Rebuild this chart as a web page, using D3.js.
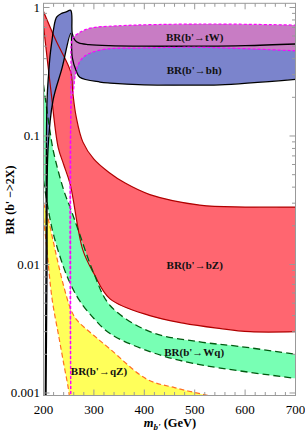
<!DOCTYPE html>
<html><head><meta charset="utf-8">
<script src="https://cdn.jsdelivr.net/npm/d3@7"></script>
<style>body{margin:0;background:#fff}svg{display:block}</style>
</head><body>
<svg id="c" width="305" height="442"></svg>
<script>
// ---- data: [mass (GeV), BR] pairs ----
const xTicks = [200, 300, 400, 500, 600, 700];
const yTicks = [1, 0.1, 0.01, 0.001];
const yTickLabels = ["1", "0.1", "0.01", "0.001"];

const bhUpper = [[203.5,0.0009],[205,0.01],[207,0.19],[210,0.3],[213,0.42],[217,0.56],[220,0.68],[226,0.84],[236,0.9],[245,0.925],[254,0.95],[257,0.63],[262,0.56],[270,0.53],[290,0.515],[330,0.505],[400,0.5],[500,0.5],[600,0.505],[700,0.52]];
const bhLower = [[205,0.0009],[207,0.01],[209,0.08],[219,0.19],[237,0.34],[254,0.63],[257,0.41],[265,0.32],[272,0.287],[312,0.263],[332,0.258],[400,0.25],[508,0.249],[550,0.25],[700,0.276]];

const tWUpper = [[254,0.0009],[254.5,0.3],[256,0.55],[260,0.59],[273,0.645],[292,0.69],[346,0.72],[510,0.744],[700,0.73]];
const tWLower = [[254,0.0009],[256,0.2],[259,0.22],[262,0.28],[267,0.345],[279,0.41],[312,0.466],[411,0.485],[510,0.49],[700,0.46]];

const bZUpper = [[200,0.93],[225,0.55],[254,0.315],[258,0.22],[265,0.14],[278,0.09],[300,0.066],[330,0.052],[362,0.043],[411,0.035],[510,0.029],[600,0.028],[700,0.028]];
const bZLower = [[200,0.72],[215,0.22],[229,0.082],[240,0.06],[253,0.042],[278,0.013],[300,0.0085],[332,0.0054],[411,0.004],[477,0.0035],[544,0.0032],[610,0.003],[700,0.003]];

const WqUpper = [[200,0.25],[210,0.13],[220,0.075],[240,0.038],[254,0.027],[270,0.018],[300,0.0085],[332,0.0048],[411,0.003],[510,0.0025],[590,0.0023],[700,0.002]];
const WqLower = [[200,0.045],[210,0.026],[220,0.017],[240,0.0095],[254,0.007],[272,0.0052],[300,0.0038],[332,0.0029],[411,0.0021],[497,0.0017],[700,0.0013]];

const qZUpper = [[200,0.030],[210,0.022],[225,0.012],[240,0.0068],[254,0.0045],[266,0.0037],[300,0.0028],[332,0.0022],[405,0.00128],[460,0.0011],[525,0.00096],[560,0.0009]];
const qZLower = [[200,0.023],[206,0.014],[217,0.0054],[230,0.0028],[240,0.0017],[249,0.0011],[252,0.0009]];

const labels = [
  {t:"BR(b'\u2192tW)", m:500, v:0.55},
  {t:"BR(b'\u2192bh)", m:499, v:0.305},
  {t:"BR(b'\u2192bZ)", m:500, v:0.0092},
  {t:"BR(b'\u2192Wq)", m:499, v:0.00194},
  {t:"BR(b'\u2192qZ)", m:310, v:0.00138}
];

// ---- layout ----
const L = 43.5, R = 295.5, T = 3.3, B = 395.5;
const svg = d3.select("#c");
const x = d3.scaleLinear().domain([200, 700]).range([L, R]);
const y = d3.scaleLog().domain([0.000956, 1.078]).range([B, T]);

svg.append("defs").append("clipPath").attr("id","clip")
  .append("rect").attr("x",L).attr("y",T).attr("width",R-L).attr("height",B-T);
const g = svg.append("g").attr("clip-path","url(#clip)");

const line = d3.line().x(d=>x(d[0])).y(d=>y(d[1])).curve(d3.curveCatmullRom.alpha(0.5));
function band(up, lo, fill, stroke, dash, sw){
  const p = line(up) + "L" + line(lo.slice().reverse()).slice(1) + "Z";
  g.append("path").attr("d", p).attr("fill", fill).attr("stroke","none");
  return () => {
    [up, lo].forEach(a => g.append("path").attr("d", line(a)).attr("fill","none")
      .attr("stroke", stroke).attr("stroke-width", sw).attr("stroke-dasharray", dash));
  };
}
const s1 = band(bZUpper, bZLower, "#ff6670", "#b00000", null, 1.2);
const s2 = band(WqUpper, WqLower, "#78ffb4", "#005a10", "7,4", 1.3);
const s3 = band(qZUpper, qZLower, "#ffff5a", "#ff7020", "5,3", 1.2);
const s4 = band(bhUpper, bhLower, "#7b84cc", "#000", null, 1.3);
const s5 = band(tWUpper, tWLower, "#c87cc4", "#ff00ff", "3,2", 1.2);
s1(); s2(); s3(); s4(); s5();

// ---- frame & ticks ----
const fr = svg.append("g").attr("stroke","#999").attr("fill","none").attr("stroke-width",1);
fr.append("rect").attr("x",L).attr("y",T).attr("width",R-L).attr("height",B-T);
d3.range(200, 701, 20).forEach(m => {
  const len = (m % 100 === 0) ? 6 : 3.5;
  fr.append("line").attr("x1",x(m)).attr("x2",x(m)).attr("y1",B).attr("y2",B-len);
  fr.append("line").attr("x1",x(m)).attr("x2",x(m)).attr("y1",T).attr("y2",T+len);
});
const minorY = [];
[0.001,0.01,0.1,1].forEach(d => { for (let k=1;k<=9;k++){ const v=d*k; if (v>=0.000956 && v<=1.078) minorY.push([v,k===1]); } });
minorY.forEach(([v,maj]) => {
  const len = maj ? 6 : 3.5;
  fr.append("line").attr("x1",L).attr("x2",L+len).attr("y1",y(v)).attr("y2",y(v));
  fr.append("line").attr("x1",R).attr("x2",R-len).attr("y1",y(v)).attr("y2",y(v));
});

const tf = "'Liberation Serif','DejaVu Serif',serif";
svg.append("g").selectAll("text").data(xTicks).join("text")
  .attr("x", d=>x(d)).attr("y", 414).attr("text-anchor","middle")
  .attr("font-family", tf).attr("font-size", 13).text(d=>d);
svg.append("g").selectAll("text").data(yTicks).join("text")
  .attr("x", 40).attr("y", d=>y(d)+4.5).attr("text-anchor","end")
  .attr("font-family", tf).attr("font-size", 13).text((d,i)=>yTickLabels[i]);

// axis titles
const xt = svg.append("text").attr("x", 170).attr("y", 427).attr("text-anchor","middle")
  .attr("font-family", tf).attr("font-size", 12.5).attr("font-weight","bold");
xt.append("tspan").attr("font-style","italic").text("m");
xt.append("tspan").attr("font-style","italic").attr("font-size",9).attr("dy",3).text("b'");
xt.append("tspan").attr("dy",-3).text(" (GeV)");
svg.append("text").attr("transform","translate(14,200) rotate(-90)").attr("text-anchor","middle")
  .attr("font-family", tf).attr("font-size", 12).attr("font-weight","bold").text("BR (b' \u2212>2X)");

// band labels
svg.append("g").selectAll("text").data(labels).join("text")
  .attr("x", d=>x(d.m)).attr("y", d=>y(d.v)).attr("text-anchor","middle")
  .attr("font-family", tf).attr("font-size", 11).attr("font-weight","bold").attr("fill","#111")
  .text(d=>d.t);
</script>
</body></html>
